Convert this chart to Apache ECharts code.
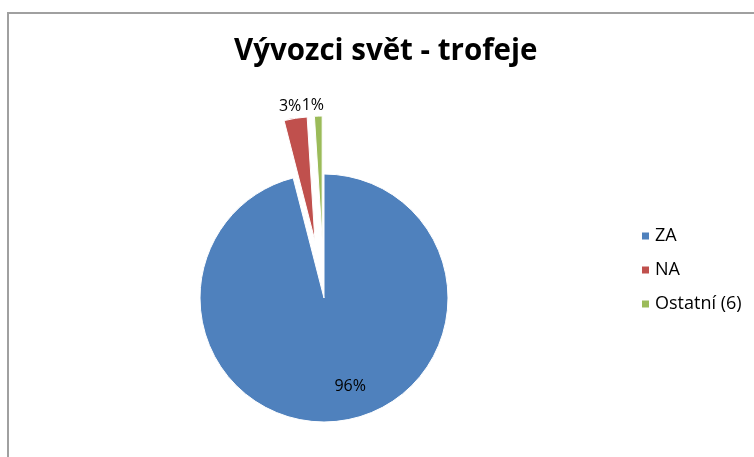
<!DOCTYPE html>
<html>
<head>
<meta charset="utf-8">
<script src="https://cdn.jsdelivr.net/npm/echarts@6/dist/echarts.min.js"></script>
<style>
  html, body { margin: 0; padding: 0; background: #fff; }
  #chartArea { width: 754px; height: 457px; }
</style>
</head>
<body>
<div id="chartArea"></div>
<script>
// data
const categories = ['ZA', 'NA', 'Ostatní (6)'];
const shareValues = [96, 3, 1];
const sliceColors = ['#4F81BD', '#C0504D', '#9BBB59'];
const explodedSlices = [false, true, true];

const font = '"Open Sans", sans-serif';

// nudge labels to where excel put them
const labelShift = [[18, 24], [12, -4], [11, -3]];

let pieData = categories.map((name, i) => {
  return {
    name: name,
    value: shareValues[i],
    selected: explodedSlices[i],
    itemStyle: { color: sliceColors[i] },
    label: i === 0 ? { position: 'inside' } : {}
  };
});

let option = {
  backgroundColor: '#fff',
  animation: false,
  title: {
    text: 'Vývozci svět - trofeje',
    left: 229,
    top: 32,
    textStyle: { fontFamily: font, fontWeight: 'bold', fontSize: 29.5, color: '#000' }
  },
  legend: {
    orient: 'vertical',
    left: 640,
    top: 226,
    padding: 0,
    itemWidth: 9,
    itemHeight: 9,
    itemGap: 14,
    icon: 'rect',
    data: categories,
    textStyle: { fontFamily: font, fontSize: 18, color: '#000', lineHeight: 20 }
  },
  graphic: [{
    type: 'polyline',
    shape: { points: [[8, 457], [8, 13], [754, 13]] },
    style: { stroke: '#a0a0a0', lineWidth: 2, fill: null },
    silent: true
  }],
  series: [{
    type: 'pie',
    center: [324, 298],
    radius: 124,
    startAngle: 90,
    clockwise: true,
    selectedMode: 'multiple',
    selectedOffset: 58,
    avoidLabelOverlap: false,
    labelLayout: function (params) {
      return {
        dx: labelShift[params.dataIndex][0],
        dy: labelShift[params.dataIndex][1],
        hideOverlap: false
      };
    },
    itemStyle: { borderColor: '#fff', borderWidth: 1 },
    select: { itemStyle: { borderColor: '#fff', borderWidth: 1 } },
    emphasis: { scale: false },
    label: {
      show: true,
      position: 'outside',
      formatter: '{d}%',
      fontFamily: font,
      fontSize: 16,
      color: '#000'
    },
    labelLine: { show: false, length: 8, length2: 0 },
    data: pieData
  }]
};

let myChart = echarts.init(document.getElementById('chartArea'));
option && myChart.setOption(option);
</script>
</body>
</html>
